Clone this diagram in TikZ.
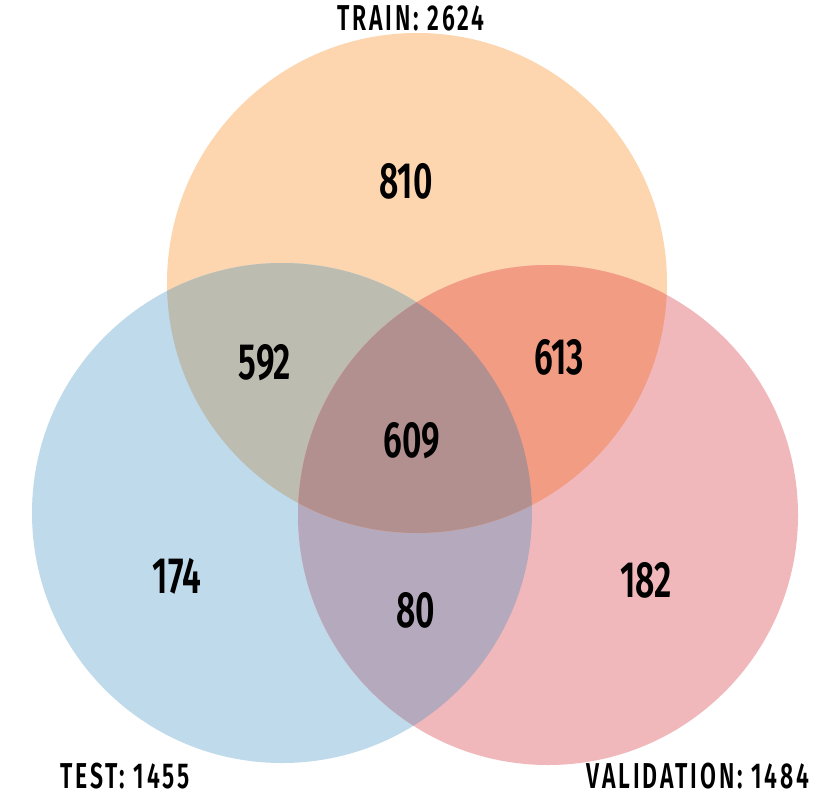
\documentclass[tikz,border=0pt]{standalone}
\usepackage{fontspec}
\newfontfamily\vf{Fira Sans SemiBold}[FakeStretch=0.66]
\newfontfamily\vl{Fira Sans SemiBold}[FakeStretch=0.64, LetterSpace=8]
\definecolor{trainc}{HTML}{FDD5AE}
\definecolor{testc}{HTML}{BFDAEA}
\definecolor{valc}{HTML}{F1B8BB}
\definecolor{trte}{HTML}{BCBCB0}
\definecolor{trva}{HTML}{F29C84}
\definecolor{teva}{HTML}{B5AABD}
\definecolor{allc}{HTML}{B39090}
\tikzset{
  num/.style={font=\vf\fontsize{51}{51}\selectfont, text=black, inner sep=0pt},
  setlab/.style={font=\vl\fontsize{36}{36}\selectfont, text=black, inner sep=0pt}
}
\begin{document}
\begin{tikzpicture}[x=1pt,y=-1pt]
\useasboundingbox[fill=white] (0,0) rectangle (832,800);
\coordinate (tr) at (417,283);
\coordinate (te) at (282,513);
\coordinate (va) at (548,515);
\fill[trainc] (tr) circle[radius=250];
\fill[testc] (te) circle[radius=250];
\fill[valc] (va) circle[radius=250];
\begin{scope}
  \clip (te) circle[radius=250];
  \fill[teva] (va) circle[radius=250];
\end{scope}
\begin{scope}
  \clip (tr) circle[radius=250];
  \fill[trte] (te) circle[radius=250];
  \fill[trva] (va) circle[radius=250];
  \clip (te) circle[radius=250];
  \fill[allc] (va) circle[radius=250];
\end{scope}
\node[setlab] (ltrain) at (411,18) {TRAIN: 2624};
\node[setlab] (ltest) at (125,776) {TEST: 1455};
\node[setlab] (lval) at (698,776) {VALIDATION: 1484};
\node[num] (n100) at (406,181) {810};
\node[num] (n110) at (265,363) {592};
\node[num] (n101) at (559,357) {613};
\node[num] (n111) at (412,441) {609};
\node[num] (n010) at (177,576) {174};
\node[num] (n011) at (416,610) {80};
\node[num] (n001) at (646,580) {182};
\end{tikzpicture}
\end{document}
